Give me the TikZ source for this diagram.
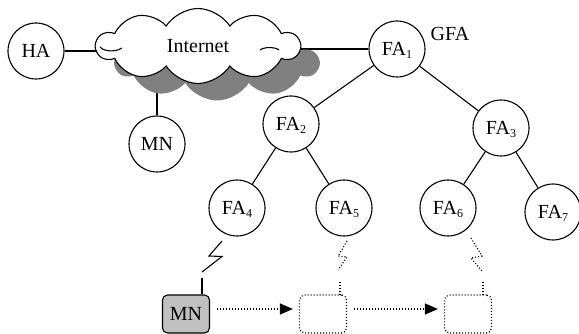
\documentclass[tikz,border=0pt]{standalone}
\usepackage{fontspec}
\setmainfont{Liberation Serif}
\usetikzlibrary{shapes.symbols,arrows.meta,backgrounds}
\newcommand{\fasub}[1]{\raisebox{-3pt}{\fontsize{12}{12}\selectfont #1}}
\begin{document}
\begin{tikzpicture}[x=1pt,y=-1pt,
  every node/.style={font=\fontsize{20}{24}\selectfont},
  host/.style={circle,draw,line width=1.1pt,fill=white,minimum size=56pt,inner sep=0pt,text depth=0pt},
  link/.style={line width=1.1pt},
  dotlink/.style={line width=1.2pt,dash pattern=on 1pt off 2pt},
  netcloud/.style={cloud,cloud puffs=10,cloud puff arc=115,aspect=2.7,minimum width=203pt,minimum height=75pt,inner sep=0pt},
  cell/.style={rounded corners=5pt,minimum width=47pt,minimum height=38pt,inner sep=0pt,text depth=0pt},
  flow/.style={dotlink,-{Triangle[length=13pt,width=11pt]},shorten <=7pt,shorten >=6pt}]
\useasboundingbox (0,0) rectangle (579,334);

% hosts and the tree of foreign agents
\node[host] (HA)  at (36,51)   {HA};
\node[host] (MNa) at (157,144) {MN};
\node[host] (FA1) at (397,49)  {FA\fasub{1}};
\node[host] (FA2) at (291,124) {FA\fasub{2}};
\node[host] (FA3) at (501,128) {FA\fasub{3}};
\node[host] (FA4) at (237,208) {FA\fasub{4}};
\node[host] (FA5) at (344,208) {FA\fasub{5}};
\node[host] (FA6) at (448,208) {FA\fasub{6}};
\node[host] (FA7) at (553,212) {FA\fasub{7}};
\node (gfa) at (450,33.5) {GFA};

% the Internet cloud with its shadow
\coordinate (net) at (198,46);
\node[netcloud,fill={rgb,255:red,128;green,128;blue,128}] (shadow) at ([shift={(19,17)}]net) {};
\node[netcloud,draw,line width=1.1pt,fill=white] (cloud) at (net) {Internet};
\draw[link] (cloud.center) ++(-98,1) arc[start angle=200,end angle=330,x radius=12pt,y radius=6pt];
\draw[link] (cloud.center) ++(62,4) arc[start angle=150,end angle=30,x radius=11pt,y radius=5pt];

% wired links, kept behind the nodes and the cloud
\begin{scope}[on background layer]
\draw[link] (HA) -- (HA -| net);
\draw[link] (FA1) -- (FA1 -| net);
\draw[link] (MNa) -- (MNa |- net);
\draw[link] (FA1) -- (FA2);
\draw[link] (FA1) -- (FA3);
\draw[link] (FA2) -- (FA4);
\draw[link] (FA2) -- (FA5);
\draw[link] (FA3) -- (FA6);
\draw[link] (FA3) -- (FA7);
\end{scope}

% mobile node and the cells it moves into
\node[cell,draw,line width=1.1pt,fill={rgb,255:red,192;green,192;blue,192}] (MNb) at (186,314) {MN};
\node[cell,dotlink,draw] (cell1) at (323,314) {};
\node[cell,dotlink,draw] (cell2) at (468,314) {};

% radio links
\coordinate (r4t) at (222,241);
\coordinate (r4b) at (202,272);
\coordinate (a4)  at (202,278);
\draw[link] (r4t) -- (209,256) -- (222,256.5) -- (r4b);
\draw[link] (a4) -- (a4 |- MNb.north);

\coordinate (r5t) at (347,241);
\coordinate (r5b) at (338,270);
\coordinate (a5)  at (340,282);
\draw[dotlink] (r5t) -- (338,256) -- (347,257) -- (r5b);
\draw[dotlink] (a5) -- (a5 |- cell1.north);

\coordinate (r6t) at (471,238);
\coordinate (r6b) at (482,271);
\coordinate (a6)  at (483,282);
\draw[dotlink] (r6t) -- (482,256) -- (471,258) -- (r6b);
\draw[dotlink] (a6) -- (a6 |- cell2.north);

% movement of the mobile node
\draw[flow] ([yshift=5pt]MNb.east) -- ([yshift=5pt]cell1.west);
\draw[flow] ([yshift=5pt]cell1.east) -- ([yshift=5pt]cell2.west);
\end{tikzpicture}
\end{document}
